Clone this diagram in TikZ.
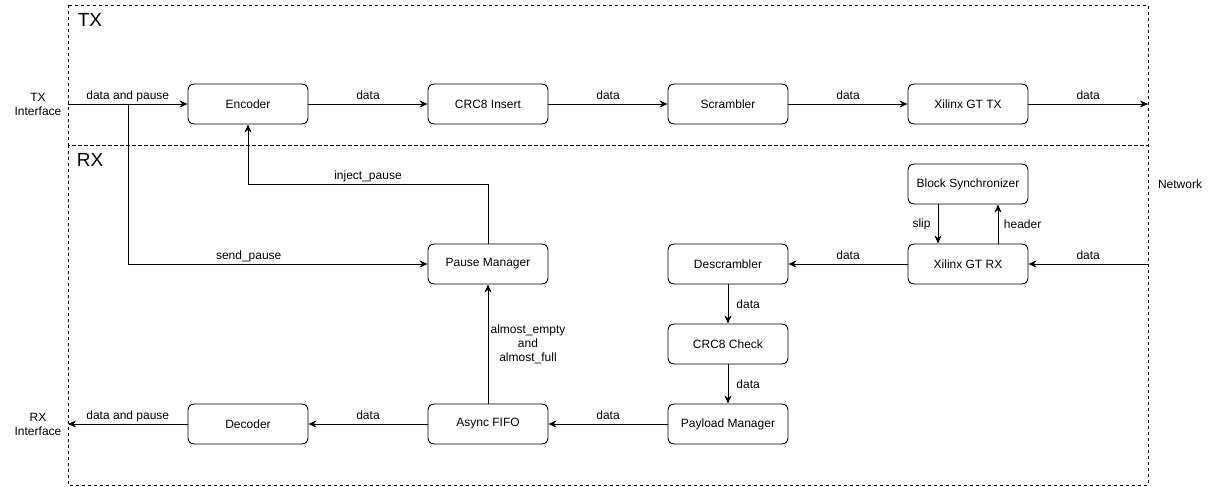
\documentclass[tikz,border=0pt]{standalone}
\usepackage{fontspec}
\setmainfont{Liberation Sans}
\usetikzlibrary{arrows.meta}
\begin{document}
\begin{tikzpicture}[x=1pt,y=-1pt,
  font=\fontsize{12}{14}\selectfont,
  blk/.style={draw,rounded corners=6pt,minimum width=120pt,minimum height=40pt,line width=0.9pt,inner sep=0pt},
  arr/.style={line width=0.9pt,-{Stealth[length=8pt,width=7pt,inset=2.5pt]}},
  ln/.style={line width=0.9pt},
  zone/.style={draw,dash pattern=on 3pt off 3pt,line width=0.8pt},
  lbl/.style={anchor=base,yshift=4.5pt,inner sep=0pt},
  big/.style={font=\fontsize{19}{22}\selectfont,inner sep=0pt}
]
\useasboundingbox (0,0) rectangle (1216,487);
% zones
\draw[zone] (68,5) rectangle (1148,145);
\draw[zone] (68,145) rectangle (1148,485);
\node[big] (txl) at (90,20) {TX};
\node[big] (rxl) at (90,160) {RX};
% side labels
\node[align=center,inner sep=0pt] (txi) at (38,104) {TX\\Interface};
\node[align=center,inner sep=0pt] (rxi) at (38,424) {RX\\Interface};
\node[inner sep=0pt] (net) at (1180,184) {Network};
% blocks
\node[blk] (enc) at (248,104) {Encoder};
\node[blk] (crci) at (488,104) {CRC8 Insert};
\node[blk] (scr) at (728,104) {Scrambler};
\node[blk] (gttx) at (968,104) {Xilinx GT TX};
\node[blk] (bsync) at (968,184) {Block Synchronizer};
\node[blk] (gtrx) at (968,264) {Xilinx GT RX};
\node[blk] (dscr) at (728,264) {Descrambler};
\node[blk] (pm) at (488,264) {Pause Manager};
\node[blk] (crcc) at (728,344) {CRC8 Check};
\node[blk] (pay) at (728,424) {Payload Manager};
\node[blk] (fifo) at (488,424) {Async FIFO};
\node[blk] (dec) at (248,424) {Decoder};
% coordinates
\coordinate (txin) at (68,104);
\coordinate (txout) at (1148,104);
\coordinate (rxin) at (1148,264);
\coordinate (rxout) at (68,424);
\coordinate (jn) at (128,104);
% TX path
\draw[arr] (txin) -- node[lbl]{data and pause} (enc.west);
\draw[arr] (enc.east) -- node[lbl]{data} (crci.west);
\draw[arr] (crci.east) -- node[lbl]{data} (scr.west);
\draw[arr] (scr.east) -- node[lbl]{data} (gttx.west);
\draw[arr] (gttx.east) -- node[lbl]{data} (txout);
% send_pause
\draw[arr] (jn) -- (jn |- pm.west) -- node[lbl,pos=0.403]{send\_pause} (pm.west);
% inject_pause
\draw[arr] (pm.north) -- (488,184) -- node[lbl]{inject\_pause} (248,184) -- (enc.south);
% RX path
\draw[arr] (rxin) -- node[lbl]{data} (gtrx.east);
\draw[arr] (gtrx.west) -- node[lbl]{data} (dscr.east);
\draw[arr] (bsync.south -| 938,0) -- node[anchor=east,inner sep=0pt,xshift=-7pt]{slip} (gtrx.north -| 938,0);
\draw[arr] (gtrx.north -| 998,0) -- node[anchor=west,inner sep=0pt,xshift=5.5pt]{header} (bsync.south -| 998,0);
\draw[arr] (dscr.south) -- node[anchor=west,inner sep=0pt,xshift=8pt]{data} (crcc.north);
\draw[arr] (crcc.south) -- node[anchor=west,inner sep=0pt,xshift=8pt]{data} (pay.north);
\draw[arr] (pay.west) -- node[lbl]{data} (fifo.east);
\draw[arr] (fifo.west) -- node[lbl]{data} (dec.east);
\draw[arr] (dec.west) -- node[lbl]{data and pause} (rxout);
\draw[arr] (fifo.north) -- (pm.south);
\node[align=center,inner sep=0pt,font=\fontsize{12}{14}\selectfont] (ae) at (528,344) {almost\_empty\\and\\almost\_full};
\end{tikzpicture}
\end{document}
